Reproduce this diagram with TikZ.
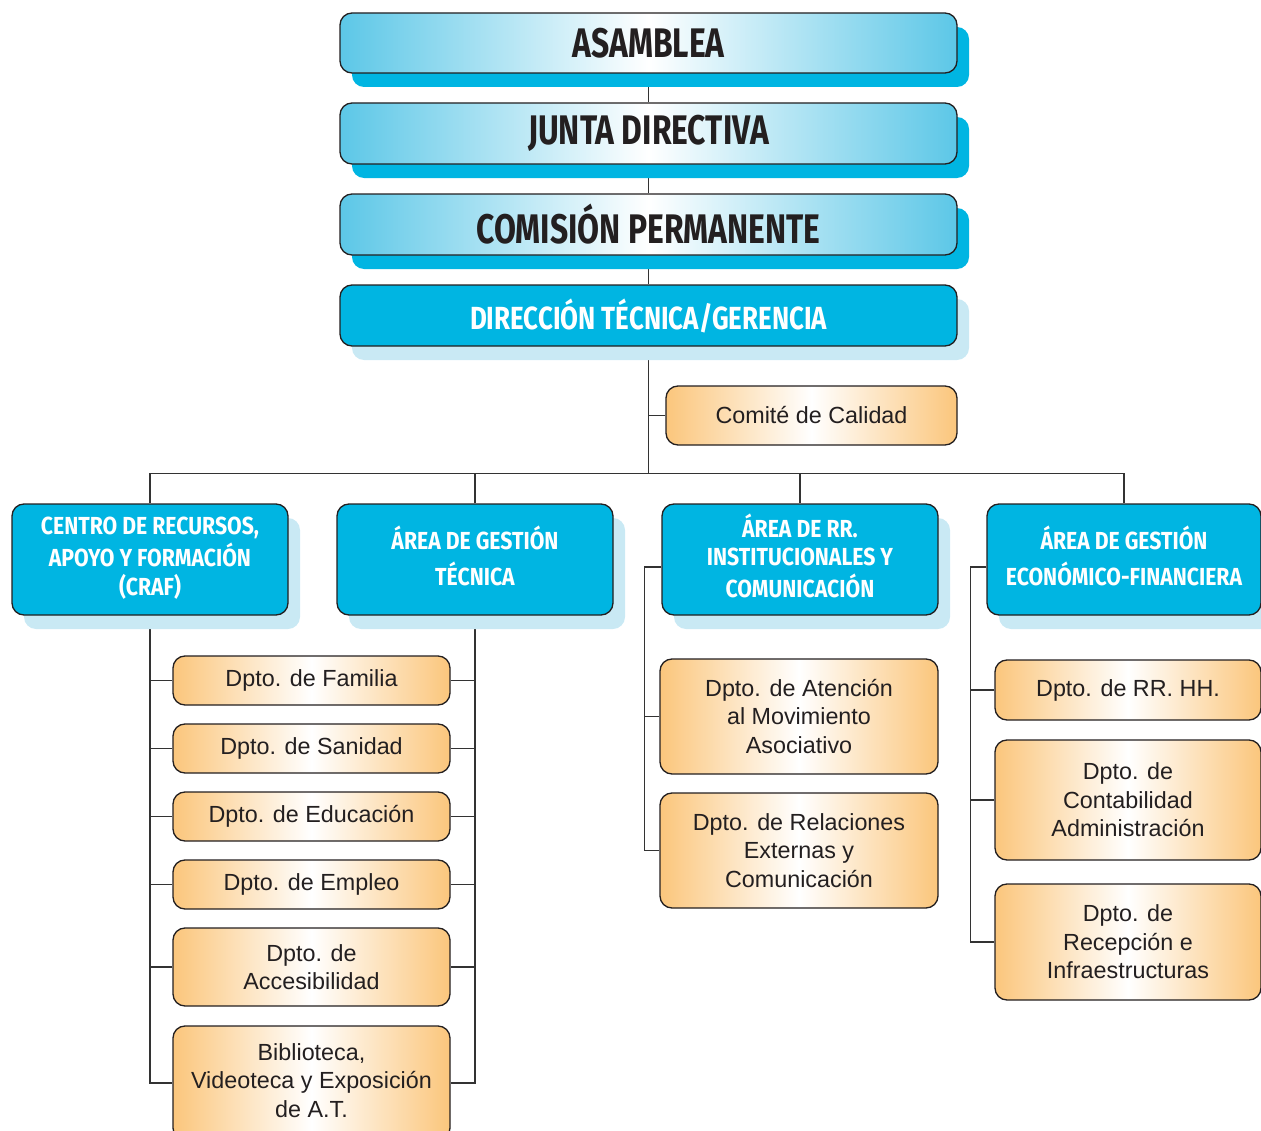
\documentclass[tikz,border=0pt]{standalone}
\usepackage{fontspec}
\setmainfont{Liberation Sans}
\newfontfamily\hdrA{Fira Sans}[FakeStretch=0.77]
\newfontfamily\hdrB{Fira Sans}[FakeStretch=0.86]
\newfontfamily\hdrC{Fira Sans}[FakeStretch=0.81]
\usetikzlibrary{shadows,backgrounds}
\definecolor{cy}{HTML}{00B5E2}
\definecolor{cyedge}{HTML}{5CC7E7}
\definecolor{cylight}{HTML}{C9E9F4}
\definecolor{orng}{HTML}{FBC67C}
\definecolor{ink}{HTML}{231F20}
\definecolor{lin}{HTML}{333333}
\newcommand\lns[2]{\raisebox{#1}{\begin{tabular}{@{}c@{}}#2\end{tabular}}}
\begin{document}
\begin{tikzpicture}[x=0.75pt,y=-0.75pt,
 wh/.style 2 args={minimum width=#1*0.75pt, minimum height=#2*0.75pt},
 box/.style={rectangle, rounded corners=9pt, draw=ink, line width=1pt, inner sep=0pt, align=center},
 topbox/.style={box, left color=cyedge, right color=cyedge, middle color=white,
   general shadow={fill=cy, shadow xshift=9pt, shadow yshift=-10.5pt},
   text=ink, font=\hdrA\bfseries\fontsize{31}{36}\selectfont},
 cybox/.style={box, fill=cy, text=white,
   general shadow={fill=cylight, shadow xshift=9pt, shadow yshift=-10.5pt}},
 areabox/.style={cybox, wh={276}{111}, font=\hdrB\bfseries\fontsize{18.5}{21}\selectfont},
 orbox/.style={box, left color=orng, right color=orng, middle color=white, text=ink,
   font=\fontsize{17.5}{21.4}\selectfont},
 conn/.style={draw=lin, line width=1pt}
]
\useasboundingbox (0,0) rectangle (1261,1131);
\clip (0,0) rectangle (1261,1131);

% top chain
\node[topbox, wh={617}{60}] (asam) at (648.5,43) {ASAMBLEA};
\node[topbox, wh={617}{61}] (junta) at (648.5,133.5) {JUNTA DIRECTIVA};
\node[topbox, wh={617}{61}] (comis) at (648.5,224.5) {COMISIÓN PERMANENTE};
\node[cybox, wh={617}{61}, font=\hdrC\bfseries\fontsize{24}{28}\selectfont] (direc) at (648.5,315.5) {DIRECCIÓN TÉCNICA/GERENCIA};
\node[orbox, wh={291}{59}] (comite) at (811.5,415.5) {Comité de Calidad};

% areas
\node[areabox] (craf) at (150,559.5) {\lns{0pt}{CENTRO DE RECURSOS,\\APOYO Y FORMACIÓN\\(CRAF)}};
\node[areabox] (tec) at (475,559.5) {\lns{2.5pt}{ÁREA DE GESTIÓN\\[3pt]TÉCNICA}};
\node[areabox] (rr) at (800,559.5) {\lns{0.5pt}{ÁREA DE RR.\\INSTITUCIONALES Y\\COMUNICACIÓN}};
\node[areabox, wh={274}{111}] (eco) at (1124,559.5) {\lns{2.5pt}{ÁREA DE GESTIÓN\\[3pt]ECONÓMICO-FINANCIERA}};

% left departments
\node[orbox, wh={277}{49}] (fam) at (311.5,680.5) {Dpto. de Familia};
\node[orbox, wh={277}{49}] (san) at (311.5,748.5) {Dpto. de Sanidad};
\node[orbox, wh={277}{49}] (edu) at (311.5,816.5) {Dpto. de Educación};
\node[orbox, wh={277}{49}] (emp) at (311.5,884.5) {Dpto. de Empleo};
\node[orbox, wh={277}{78}] (acc) at (311.5,967) {Dpto. de\\Accesibilidad};
\node[orbox, wh={277}{114}] (bib) at (311.5,1083) {\lns{3.5pt}{Biblioteca,\\Videoteca y Exposición\\de A.T.}};

% RR departments
\node[orbox, wh={278}{115}] (aten) at (799,716.5) {Dpto. de Atención\\al Movimiento\\Asociativo};
\node[orbox, wh={278}{115}] (rel) at (799,850.5) {Dpto. de Relaciones\\Externas y\\Comunicación};

% economic departments
\node[orbox, wh={266}{60}] (rrhh) at (1128,690) {Dpto. de RR. HH.};
\node[orbox, wh={266}{120}] (cont) at (1128,800) {Dpto. de\\Contabilidad\\Administración};
\node[orbox, wh={266}{116}] (recep) at (1128,942) {Dpto. de\\Recepción e\\Infraestructuras};

\begin{scope}[on background layer]
\draw[conn] (asam.south) -- (junta.north);
\draw[conn] (junta.south) -- (comis.north);
\draw[conn] (comis.south) -- (direc.north);
\draw[conn] (craf.north) -- ++(0,-30) coordinate (busL) -| (eco.north);
\draw[conn] (direc.south) -- (direc.south |- busL);
\draw[conn] (comite.west) -- (comite.west -| direc.south);
\draw[conn] (tec.north) -- (tec.north |- busL);
\draw[conn] (rr.north) -- (rr.north |- busL);
% CRAF column
\draw[conn] (craf.south) -- (craf.south |- bib.west) -- (bib.west);
\foreach \n in {fam,san,edu,emp,acc} \draw[conn] (\n.west) -- (\n.west -| craf.south);
% Tecnica column
\draw[conn] (tec.south) -- (tec.south |- bib.east) -- (bib.east);
\foreach \n in {fam,san,edu,emp,acc} \draw[conn] (\n.east) -- (\n.east -| tec.south);
% RR column
\draw[conn] ([yshift=-5.6pt]rr.west) -- ++(-17,0) coordinate (rrs) |- (rel.west);
\draw[conn] (aten.west) -- (aten.west -| rrs);
% Eco column
\draw[conn] ([yshift=-5.6pt]eco.west) -- ++(-16,0) coordinate (ecs) |- (recep.west);
\draw[conn] (rrhh.west) -- (rrhh.west -| ecs);
\draw[conn] (cont.west) -- (cont.west -| ecs);
\end{scope}
\end{tikzpicture}
\end{document}
